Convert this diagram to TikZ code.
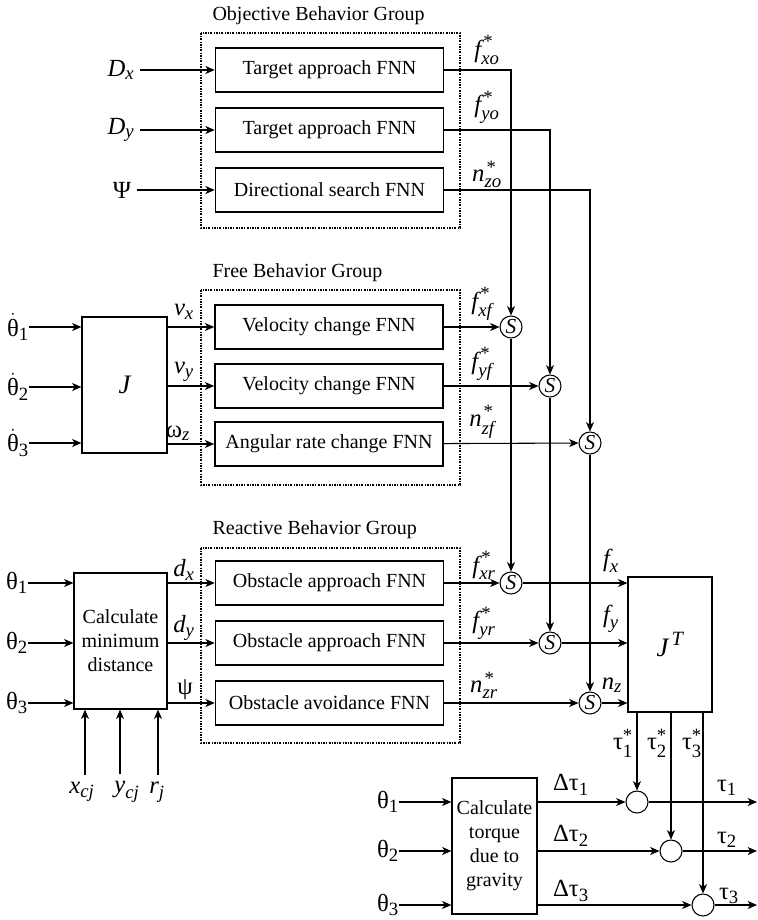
\documentclass[tikz,border=0pt]{standalone}
\usepackage{amsmath}
\usepackage{fontspec}
\setmainfont{Liberation Serif}
\usetikzlibrary{arrows.meta}
\renewcommand{\defaultscriptratio}{0.76}

\newcommand{\cmdlab}[2]{$\textit{#1}^{\kern1.5pt\text{*}}_{\textit{#2}}$}
\newcommand{\itlab}[2]{$\textit{#1}_{\textit{#2}}$}
\newcommand{\gklab}[2]{$\text{#1}_{\text{#2}}$}
\newcommand{\dotlab}[1]{$\dot{\text{θ}}_{\text{#1}}$}

\tikzset{
  fnn/.style={draw, line width=1.2pt, minimum width=171pt, minimum height=33pt, inner sep=0pt, font=\fontsize{15}{18}\selectfont},
  blk/.style={draw, line width=0.9pt, inner sep=0pt, align=center, font=\fontsize{15}{18}\selectfont},
  grp/.style={line width=0.9pt, dash pattern=on 1.5pt off 1pt on 0.6pt off 1pt},
  ttl/.style={anchor=base west, inner sep=0pt, font=\fontsize{15}{18}\selectfont},
  lab/.style={inner sep=0pt, font=\fontsize{18.5}{22}\selectfont},
  sum/.style={draw, circle, line width=0.8pt, minimum size=16.5pt, inner sep=0pt, font=\fontsize{16}{18}\selectfont},
}

\begin{document}
\begin{tikzpicture}[x=0.75pt, y=-0.75pt, line width=0.8pt, >={Stealth[length=7pt, width=6pt, inset=2pt]}]
  \useasboundingbox (0,0) rectangle (757,920);

  % Groups
  \node[ttl] (tob) at (212,21) {Objective Behavior Group};
  \node[ttl] (tfr) at (212,277) {Free Behavior Group};
  \node[ttl] (tre) at (212,534) {Reactive Behavior Group};
  \draw[grp] (201,33) rectangle (460,228);
  \draw[grp] (201,290) rectangle (460,485);
  \draw[grp] (201,548) rectangle (460,743);

  % FNN nodes
  \node[fnn] (ob1) at (329.5,70) {Target approach FNN};
  \node[fnn] (ob2) at (329.5,130) {Target approach FNN};
  \node[fnn] (ob3) at (329.5,190) {Directional search FNN};
  \node[fnn] (fr1) at (329,327) {Velocity change FNN};
  \node[fnn] (fr2) at (329,386) {Velocity change FNN};
  \node[fnn] (fr3) at (329,444) {Angular rate change FNN};
  \node[fnn] (re1) at (329.5,583) {Obstacle approach FNN};
  \node[fnn] (re2) at (329.5,643) {Obstacle approach FNN};
  \node[fnn] (re3) at (329.5,703) {Obstacle avoidance FNN};

  % Blocks
  \node[blk, minimum width=63.75pt, minimum height=102pt, font=\fontsize{20}{24}\selectfont] (jac) at (124.5,385) {$\textit{J}$};
  \node[blk, minimum width=69.75pt, minimum height=102pt] (cmd) at (120.5,641) {Calculate\\minimum\\distance};
  \node[blk, minimum width=63pt, minimum height=101.25pt, font=\fontsize{20}{24}\selectfont] (jt) at (670,644.5) {$\textit{J}^{\,\textit{T}}$};
  \node[blk, minimum width=63.75pt, minimum height=102pt] (ctq) at (494.5,846) {Calculate\\torque\\due to\\gravity};

  % Summing nodes
  \node[sum] (sf1) at (511,327) {$\textit{S}$};
  \node[sum] (sf2) at (550,386) {$\textit{S}$};
  \node[sum] (sf3) at (590,443) {$\textit{S}$};
  \node[sum] (sr1) at (511,583) {$\textit{S}$};
  \node[sum] (sr2) at (550,643) {$\textit{S}$};
  \node[sum] (sr3) at (590,703) {$\textit{S}$};
  \node[sum] (tc1) at (637,802) {};
  \node[sum] (tc2) at (671,851) {};
  \node[sum] (tc3) at (703,905) {};

  % Input labels
  \node[lab] (dx) at (121,70) {\itlab{D}{x}};
  \node[lab] (dy) at (121,130) {\itlab{D}{y}};
  \node[lab] (psi) at (122,190) {Ψ};
  \node[lab] (td1) at (18,327) {\dotlab{1}};
  \node[lab] (td2) at (18,387) {\dotlab{2}};
  \node[lab] (td3) at (18,443) {\dotlab{3}};
  \node[lab] (th1) at (17,583) {\gklab{θ}{1}};
  \node[lab] (th2) at (17,643) {\gklab{θ}{2}};
  \node[lab] (th3) at (17,703) {\gklab{θ}{3}};
  \node[lab] (xc) at (82,792) {\itlab{x}{cj}};
  \node[lab] (yc) at (127,792) {\itlab{y}{cj}};
  \node[lab] (rj) at (157,792) {\itlab{r}{j}};
  \node[lab] (tg1) at (388,802) {\gklab{θ}{1}};
  \node[lab] (tg2) at (388,851) {\gklab{θ}{2}};
  \node[lab] (tg3) at (388,905) {\gklab{θ}{3}};

  % Signal labels
  \node[lab] at (487,50) {\cmdlab{f}{xo}};
  \node[lab] at (487,107) {\cmdlab{f}{yo}};
  \node[lab] at (487,174) {\cmdlab{n}{zo}};
  \node[lab] at (482,304) {\cmdlab{f}{xf}};
  \node[lab] at (482,364) {\cmdlab{f}{yf}};
  \node[lab] at (482,422) {\cmdlab{n}{zf}};
  \node[lab] at (484,565) {\cmdlab{f}{xr}};
  \node[lab] at (484,623) {\cmdlab{f}{yr}};
  \node[lab] at (484,685) {\cmdlab{n}{zr}};
  \node[lab] at (184,312) {\itlab{v}{x}};
  \node[lab] at (184,372) {\itlab{v}{y}};
  \node[lab] at (178,433) {$\text{ω}_{\textit{z}}$};
  \node[lab] at (184,570) {\itlab{d}{x}};
  \node[lab] at (184,628) {\itlab{d}{y}};
  \node[lab] at (185,690) {ψ};
  \node[lab] at (611,561) {\itlab{f}{x}};
  \node[lab] at (611,619) {\itlab{f}{y}};
  \node[lab] at (612,685) {\itlab{n}{z}};
  \node[lab] at (623,743) {$\text{τ}^{\text{*}}_{\text{1}}$};
  \node[lab] at (657,743) {$\text{τ}^{\text{*}}_{\text{2}}$};
  \node[lab] at (692,743) {$\text{τ}^{\text{*}}_{\text{3}}$};
  \node[lab] at (571,785) {\gklab{Δτ}{1}};
  \node[lab] at (571,836) {\gklab{Δτ}{2}};
  \node[lab] at (571,891) {\gklab{Δτ}{3}};
  \node[lab] at (727,788) {\gklab{τ}{1}};
  \node[lab] at (727,840) {\gklab{τ}{2}};
  \node[lab] at (729,896) {\gklab{τ}{3}};

  \coordinate (out1) at (757,802);
  \coordinate (out2) at (757,851);
  \coordinate (out3) at (757,905);

  % Edges
  \draw[->, shorten <=4pt] (dx) -- (ob1);
  \draw[->, shorten <=4pt] (dy) -- (ob2);
  \draw[->, shorten <=4pt] (psi) -- (ob3);
  \draw[->] (td1) -- (td1 -| jac.west);
  \draw[->] (td2) -- (td2 -| jac.west);
  \draw[->] (td3) -- (td3 -| jac.west);
  \draw[->] (jac.east |- fr1) -- (fr1);
  \draw[->] (jac.east |- fr2) -- (fr2);
  \draw[->] (jac.east |- fr3) -- (fr3);
  \draw[->] (th1) -- (th1 -| cmd.west);
  \draw[->] (th2) -- (th2 -| cmd.west);
  \draw[->] (th3) -- (th3 -| cmd.west);
  \draw[->] (cmd.east |- re1) -- (re1);
  \draw[->] (cmd.east |- re2) -- (re2);
  \draw[->] (cmd.east |- re3) -- (re3);
  \draw[->, shorten <=5pt] (xc.north -| 85,0) -- (cmd.south -| 85,0);
  \draw[->, shorten <=5pt] (yc.north -| 120,0) -- (cmd.south -| 120,0);
  \draw[->, shorten <=5pt] (rj.north -| 158,0) -- (cmd.south -| 158,0);

  \draw[->] (ob1) -| (sf1);
  \draw[->] (ob2) -| (sf2);
  \draw[->] (ob3) -| (sf3);
  \draw[->] (fr1) -- (sf1);
  \draw[->] (fr2) -- (sf2);
  \draw[->] (fr3) -- (sf3);
  \draw[->] (sf1) -- (sr1);
  \draw[->] (sf2) -- (sr2);
  \draw[->] (sf3) -- (sr3);
  \draw[->] (re1) -- (sr1);
  \draw[->] (re2) -- (sr2);
  \draw[->] (re3) -- (sr3);
  \draw[->] (sr1) -- (sr1 -| jt.west);
  \draw[->] (sr2) -- (sr2 -| jt.west);
  \draw[->] (sr3) -- (sr3 -| jt.west);

  \draw[->] (jt.south -| tc1) -- (tc1);
  \draw[->] (jt.south -| tc2) -- (tc2);
  \draw[->] (jt.south -| tc3) -- (tc3);
  \draw[->] (tg1) -- (tg1 -| ctq.west);
  \draw[->] (tg2) -- (tg2 -| ctq.west);
  \draw[->] (tg3) -- (tg3 -| ctq.west);
  \draw[->] (ctq.east |- tc1) -- (tc1);
  \draw[->] (ctq.east |- tc2) -- (tc2);
  \draw[->] (ctq.east |- tc3) -- (tc3);
  \draw[->] (tc1) -- (out1);
  \draw[->] (tc2) -- (out2);
  \draw[->] (tc3) -- (out3);

\end{tikzpicture}
\end{document}
